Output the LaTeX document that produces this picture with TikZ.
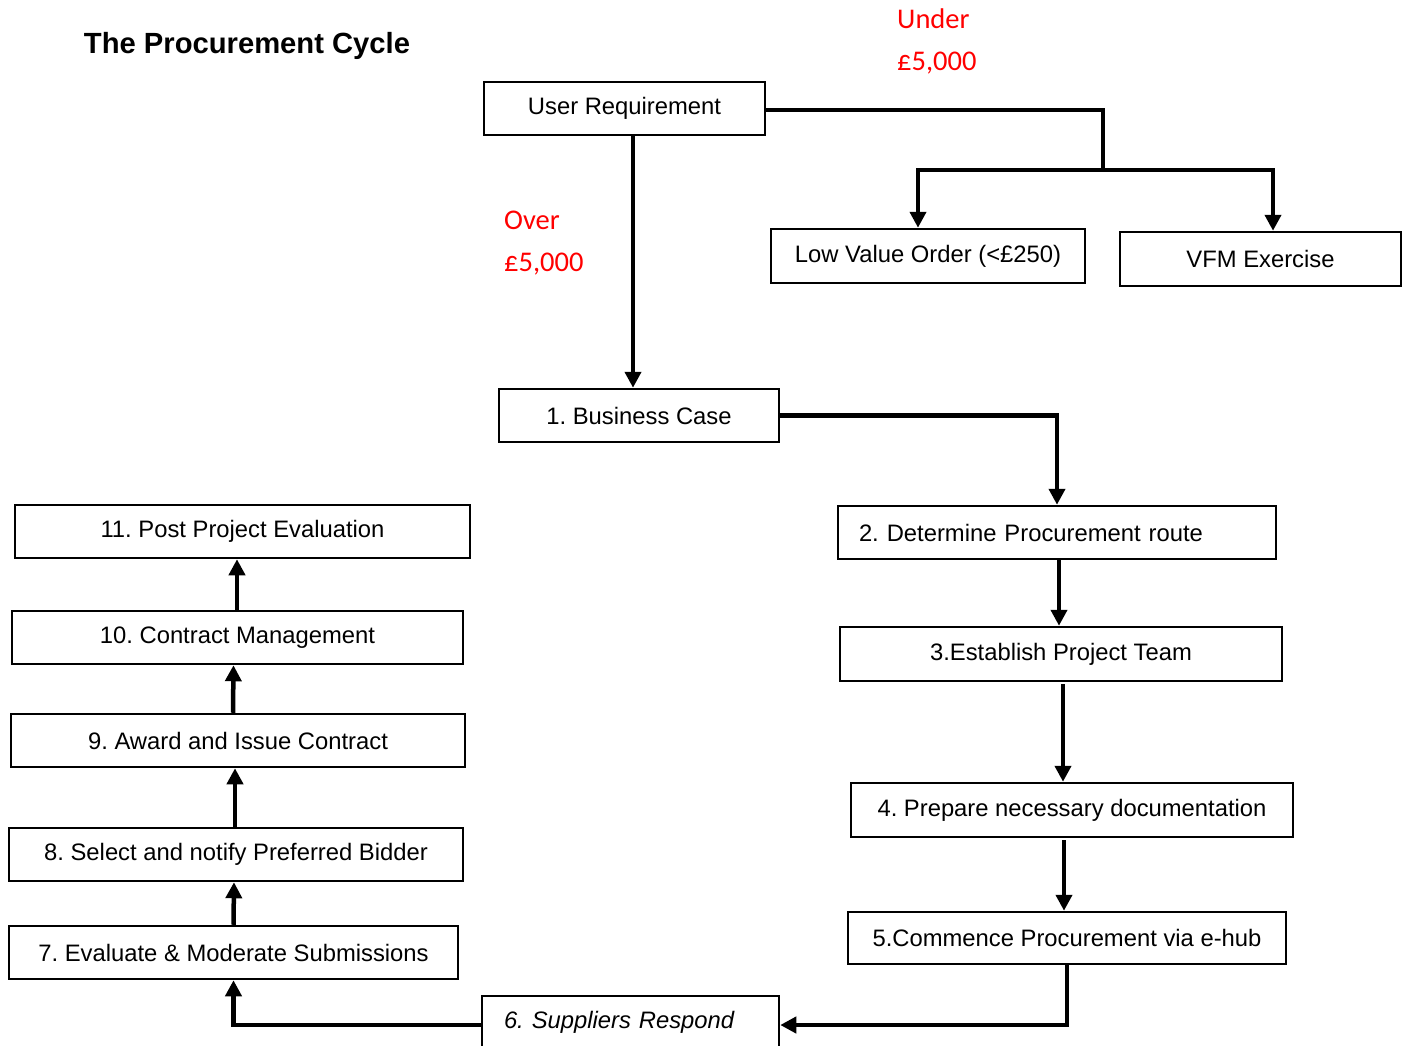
\documentclass[tikz,border=0pt]{standalone}
\usepackage{fontspec}
\setmainfont{Liberation Sans}
\newfontfamily\redfont{Carlito}
\usetikzlibrary{arrows.meta}
\frenchspacing
\begin{document}
\begin{tikzpicture}[x=1pt,y=-1pt,
 box/.style={draw, line width=2.5pt, inner sep=0pt, minimum height=53pt, font=\fontsize{23.8}{28}\selectfont},
 conn/.style={line width=4.5pt},
 arr/.style={conn, -{Triangle[width=16pt,length=16pt]}},
 note/.style={text=red, font=\redfont\fontsize{28.5}{42}\selectfont, align=left, anchor=west, inner sep=0pt}]
\useasboundingbox (0,0) rectangle (1406,1045);
\clip (0,0) rectangle (1406,1045);

\node[font=\bfseries\fontsize{29.2}{34}\selectfont, inner sep=0pt] (title) at (247,46) {The Procurement Cycle};
\node[note] (under) at (897,41) {Under\\£5,000};
\node[note] (over) at (504,243) {Over\\£5,000};

\node[box, minimum width=281pt] (ur) at (624.5,108.5) {User Requirement};
\node[box, minimum width=314pt, minimum height=54pt] (lvo) at (928,256) {Low Value Order (<£250)};
\node[box, minimum width=281pt, minimum height=54pt] (vfm) at (1260.5,259) {VFM Exercise};
\node[box, minimum width=280pt] (bc) at (639,415.5) {1. Business Case};
\node[box, text width=396pt, inner xsep=21pt, align=left] (s2) at (1057,532.5) {2. Determine Procurement route};
\node[box, minimum width=442pt, minimum height=54pt] (s3) at (1061,654) {3.Establish Project Team};
\node[box, minimum width=442pt, minimum height=54pt] (s4) at (1072,810) {4. Prepare necessary documentation};
\node[box, minimum width=438pt, minimum height=52pt] (s5) at (1067,938) {5.Commence Procurement via e-hub};
\node[box, text width=253pt, inner xsep=22pt, align=left, minimum height=52pt, font=\itshape\fontsize{23.8}{28}\selectfont] (s6) at (630.5,1022) {6. Suppliers Respond};
\node[box, minimum width=449pt] (s7) at (233.5,952.5) {7. Evaluate \& Moderate Submissions};
\node[box, minimum width=454pt] (s8) at (236,854.5) {8. Select and notify Preferred Bidder};
\node[box, minimum width=454pt] (s9) at (238,740.5) {9. Award and Issue Contract};
\node[box, minimum width=451pt] (s10) at (237.5,637.5) {10. Contract Management};
\node[box, minimum width=455pt] (s11) at (242.5,531.5) {11. Post Project Evaluation};

\coordinate (j1) at (1103,170);
\coordinate (l1) at (918,170);
\coordinate (v1) at (1273,170);

\draw[arr] ([xshift=8.5pt]ur.south) -- ([xshift=-6pt]bc.north);
\draw[conn] ([yshift=-1.5pt]ur.east) -| (j1);
\draw[arr] (j1) -| (l1 |- lvo.north);
\draw[arr] (j1) -| (v1 |- vfm.north);
\draw[arr] (bc.east) -| (s2.north);
\draw[arr] ([xshift=2pt]s2.south) -- ([xshift=-2pt]s3.north);
\draw[arr] ([xshift=2pt,yshift=-2pt]s3.south) -- ([xshift=-9pt]s4.north);
\draw[arr] ([xshift=-8pt,yshift=-2pt]s4.south) -- ([xshift=-3pt]s5.north);
\draw[arr] (s5.south) |- ([yshift=-3pt]s6.east);
\draw[arr] ([yshift=-3pt]s6.west) -| (s7.south);
\draw[arr] (s7.north) -- ([xshift=-2pt]s8.south);
\draw[arr] ([xshift=-1pt]s8.north) -- ([xshift=-3pt]s9.south);
\draw[arr] ([xshift=-5pt]s9.north) -- ([xshift=-4pt]s10.south);
\draw[arr] ([xshift=-0.5pt]s10.north) -- ([xshift=-5.5pt]s11.south);
\end{tikzpicture}
\end{document}
